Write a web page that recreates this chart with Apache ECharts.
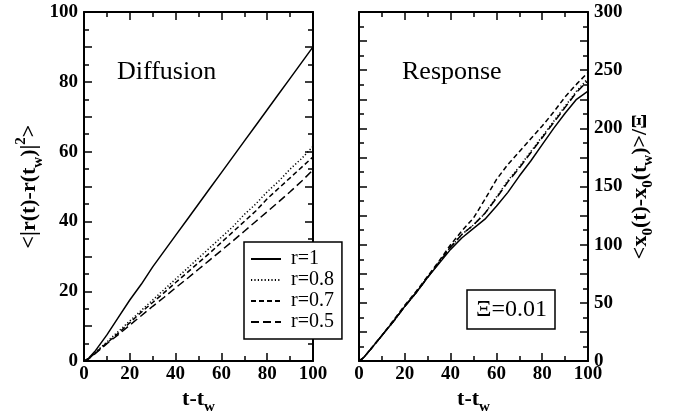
<!DOCTYPE html>
<html>
<head>
<meta charset="utf-8">
<script src="https://cdn.jsdelivr.net/npm/echarts@6/dist/echarts.min.js"></script>
<style>
  html, body { margin: 0; padding: 0; background: #fff; }
  #chart { width: 677px; height: 420px; }
</style>
</head>
<body>
<div id="chart"></div>
<script>
// t - t_w values (shared by both panels)
const tValues = [0, 2, 5, 10, 15, 20, 25, 30, 35, 40, 45, 50, 55, 60, 65, 70, 75, 80, 85, 90, 95, 100];
const seriesNames = ['r=1', 'r=0.8', 'r=0.7', 'r=0.5'];

// Diffusion panel: <|r(t)-r(t_w)|^2>
const diffR1  = [0, 0.8, 3, 7.5, 12.5, 17.5, 22, 27, 31.5, 36, 40.5, 45, 49.5, 54, 58.5, 63, 67.5, 72, 76.5, 81, 85.5, 90];
const diffR08 = [0, 0.7, 2.5, 5.5, 8.5, 11.5, 14.5, 17.5, 20.5, 23.5, 26.5, 29.5, 32.5, 35.5, 38.5, 42, 45, 48.5, 51.5, 55, 58, 61.5];
const diffR07 = [0, 0.7, 2.4, 5.2, 8, 11, 14, 16.8, 19.6, 22.5, 25.3, 28.2, 31, 34, 37, 40, 43, 46.5, 49.5, 52.5, 55.5, 58.5];
const diffR05 = [0, 0.6, 2.2, 5, 7.6, 10.3, 13, 15.7, 18.3, 21, 23.6, 26.3, 29, 31.7, 34.4, 37.2, 40, 42.8, 45.6, 48.5, 51.5, 54.8];

// Response panel: <x0(t)-x0(t_w)>/Xi
const respR1  = [0, 3, 10, 22, 34, 47, 59, 72, 84, 96, 106, 114, 122, 133, 145, 159, 172, 186, 200, 213, 225, 232];
const respR08 = [0, 3, 10, 22, 34, 47, 59, 72, 85, 98, 109, 117, 127, 141, 155, 167, 180, 193, 206, 219, 232, 243];
const respR07 = [0, 3, 10, 22, 35, 48, 60, 73, 86, 100, 112, 123, 139, 156, 169, 180, 191, 202, 214, 227, 238, 248];
const respR05 = [0, 3, 10, 22, 34, 47, 59, 72, 85, 98, 109, 117, 127, 140, 154, 166, 179, 192, 205, 218, 231, 241];

const xTicks = [0, 20, 40, 60, 80, 100];
const diffTicks = [0, 20, 40, 60, 80, 100];
const respTicks = [0, 50, 100, 150, 200, 250, 300];

const chart = echarts.init(document.getElementById('chart'));

const serif = 'Liberation Serif';
const dashes = ['solid', [1.2, 2.2], [5, 3], [8, 4]];

function pairs(ys) {
  return tValues.map((t, i) => [t, ys[i]]);
}

function lineSeries(name, ys, idx, axisIdx) {
  return {
    name: name,
    type: 'line',
    xAxisIndex: axisIdx,
    yAxisIndex: axisIdx,
    data: pairs(ys),
    showSymbol: false,
    symbol: 'none',
    silent: true,
    lineStyle: { color: '#000', width: 1.5, type: dashes[idx] },
    itemStyle: { color: '#000' }
  };
}

const labelStyle = { color: '#000', fontFamily: serif, fontSize: 19, fontWeight: 'bold' };
const subRich = {
  b: { fontFamily: serif, fontSize: 22, fontWeight: 'bold', color: '#000', lineHeight: 32 },
  sub: { fontFamily: serif, fontSize: 15, fontWeight: 'bold', color: '#000', lineHeight: 14, verticalAlign: 'bottom' },
  sup: { fontFamily: serif, fontSize: 15, fontWeight: 'bold', color: '#000', lineHeight: 14, verticalAlign: 'top' }
};

function xAx(grid, pos, withLabels) {
  return {
    type: 'value', gridIndex: grid, position: pos,
    min: 0, max: 100, interval: 20,
    axisLine: { onZero: false, lineStyle: { color: '#000', width: 2 } },
    axisTick: { inside: true, length: 8, lineStyle: { color: '#000', width: 1.5 } },
    minorTick: { show: true, splitNumber: 2, length: 5, lineStyle: { color: '#000', width: 1.5 } },
    splitLine: { show: false },
    axisLabel: Object.assign({ show: withLabels, margin: 3,
      formatter: v => xTicks.includes(v) ? String(v) : '' }, labelStyle),
    name: withLabels ? '{b|t-t}{sub|w}' : '',
    nameLocation: 'middle', nameGap: 21,
    nameTextStyle: { rich: subRich }
  };
}

function yAx(grid, pos, max, interval, ticks, withLabels, name, nameGap) {
  return {
    type: 'value', gridIndex: grid, position: pos,
    min: 0, max: max, interval: interval,
    axisLine: { onZero: false, lineStyle: { color: '#000', width: 2 } },
    axisTick: { inside: true, length: 8, lineStyle: { color: '#000', width: 1.5 } },
    minorTick: { show: true, splitNumber: 2, length: 5, lineStyle: { color: '#000', width: 1.5 } },
    splitLine: { show: false },
    axisLabel: Object.assign({ show: withLabels, margin: 6,
      formatter: v => ticks.includes(v) ? String(v) : '' }, labelStyle),
    name: withLabels ? name : '',
    nameLocation: 'middle', nameGap: nameGap, nameRotate: 90,
    nameTextStyle: { rich: subRich }
  };
}

const option = {
  backgroundColor: '#fff',
  animation: false,
  grid: [
    { left: 84, top: 12, width: 229, height: 354 },
    { left: 359, top: 12, width: 229, height: 354 }
  ],
  title: [
    { text: 'Diffusion', left: 117, top: 59, padding: 0,
      textStyle: { fontFamily: serif, fontSize: 26, fontWeight: 'normal', color: '#000' } },
    { text: 'Response', left: 402, top: 59, padding: 0,
      textStyle: { fontFamily: serif, fontSize: 26, fontWeight: 'normal', color: '#000' } },
    { text: 'Ξ=0.01', left: 467, top: 290, padding: [8, 8, 7, 9],
      borderColor: '#000', borderWidth: 1.5, backgroundColor: '#fff',
      textStyle: { fontFamily: serif, fontSize: 24, fontWeight: 'normal', color: '#000' } }
  ],
  legend: {
    data: seriesNames,
    orient: 'vertical',
    left: 244, top: 242,
    padding: [7, 8, 7, 6],
    itemWidth: 30, itemHeight: 14, itemGap: 1,
    backgroundColor: '#fff',
    borderColor: '#000', borderWidth: 1.5, borderRadius: 0,
    selectedMode: false,
    itemStyle: { opacity: 0 },
    textStyle: { fontFamily: serif, fontSize: 20, color: '#000', lineHeight: 20, padding: [0, 0, 0, 5] }
  },
  xAxis: [
    xAx(0, 'bottom', true),
    xAx(0, 'top', false),
    xAx(1, 'bottom', true),
    xAx(1, 'top', false)
  ],
  yAxis: [
    yAx(0, 'left', 100, 10, diffTicks, true,
      '{b|<|r(t)-r(t}{sub|w}{b|)|}{sup|2}{b|>}', 29),
    yAx(0, 'right', 100, 10, diffTicks, false, '', 0),
    yAx(1, 'right', 300, 25, respTicks, true,
      '{b|<x}{sub|0}{b|(t)-x}{sub|0}{b|(t}{sub|w}{b|)>/Ξ}', 36),
    yAx(1, 'left', 300, 25, respTicks, false, '', 0)
  ],
  series: [
    lineSeries('r=1', diffR1, 0, 0),
    lineSeries('r=0.8', diffR08, 1, 0),
    lineSeries('r=0.7', diffR07, 2, 0),
    lineSeries('r=0.5', diffR05, 3, 0),
    lineSeries('r=1', respR1, 0, 2),
    lineSeries('r=0.8', respR08, 1, 2),
    lineSeries('r=0.7', respR07, 2, 2),
    lineSeries('r=0.5', respR05, 3, 2)
  ]
};

chart.setOption(option);
</script>
</body>
</html>
